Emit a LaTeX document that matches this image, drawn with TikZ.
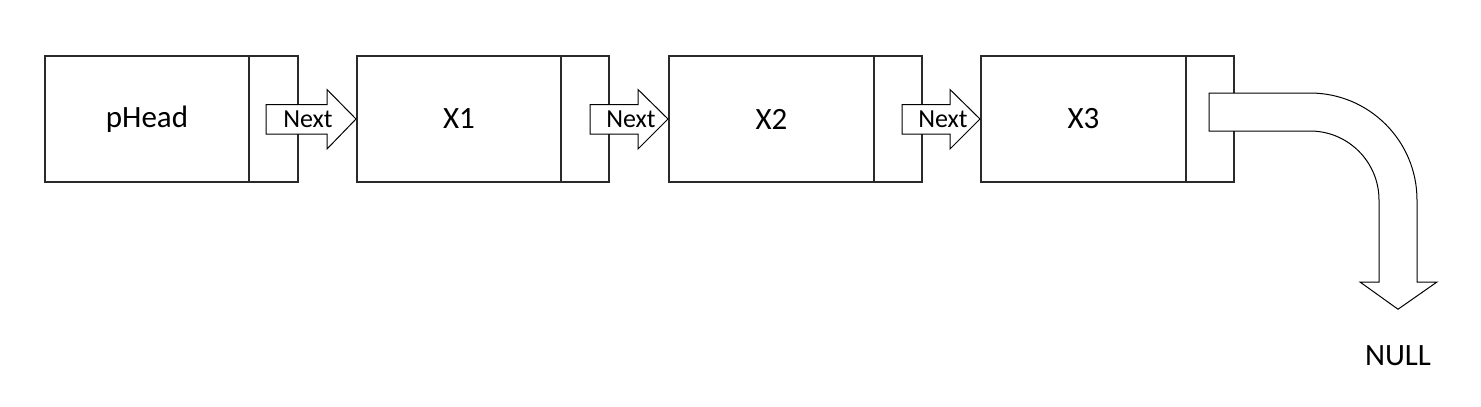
\documentclass[tikz,border=0pt]{standalone}
\usepackage{fontspec}
\setmainfont{Carlito}
\usetikzlibrary{calc}
\definecolor{boxline}{HTML}{2A2A2A}
\tikzset{
  cellbox/.style={draw=boxline, line width=2pt, rectangle, inner sep=0pt, minimum height=126pt, fill=white},
  datacell/.style={cellbox, font=\fontsize{31}{36}\selectfont},
  ptrcell/.style={cellbox},
  blockarrow/.style={draw=black, line width=1pt, fill=white, line join=miter},
  arrowtext/.style={inner sep=0pt, font=\fontsize{26}{30}\selectfont},
  nulltext/.style={inner sep=0pt, font=\fontsize{31}{36}\selectfont}
}
\begin{document}
\begin{tikzpicture}[x=1pt,y=-1pt]
\useasboundingbox[fill=white] (0,0) rectangle (1481,407);
% nodes of the list
\node[datacell, minimum width=204pt] (d1) at (147,119) {pHead};
\node[ptrcell, minimum width=49pt] (p1) at (273.5,119) {};
\node[datacell, minimum width=204pt] (d2) at (459,119) {X1};
\node[ptrcell, minimum width=48pt] (p2) at (585,119) {};
\node[datacell, minimum width=205pt] (d3) at (771.5,119) {X2};
\node[ptrcell, minimum width=48pt] (p3) at (898,119) {};
\node[datacell, minimum width=205pt] (d4) at (1083.5,119) {X3};
\node[ptrcell, minimum width=48pt] (p4) at (1210,119) {};
% block arrows "Next"
\draw[blockarrow] ($(d2.west)+(-90,-14.5)$) -- ++(61,0) -- ++(0,-15) -- (d2.west)
  -- ($(d2.west)+(-29,30)$) -- ++(0,-15) -- ++(-61,0) -- cycle;
\node[arrowtext] (n1) at ($(d2.west)+(-48,0)$) {Next};
\draw[blockarrow] ($(d3.west)+(-78,-14.5)$) -- ++(48,0) -- ++(0,-15) -- (d3.west)
  -- ($(d3.west)+(-30,30)$) -- ++(0,-15) -- ++(-48,0) -- cycle;
\node[arrowtext] (n2) at ($(d3.west)+(-37,0)$) {Next};
\draw[blockarrow] ($(d4.west)+(-78,-14.5)$) -- ++(48,0) -- ++(0,-15) -- (d4.west)
  -- ($(d4.west)+(-30,30)$) -- ++(0,-15) -- ++(-48,0) -- cycle;
\node[arrowtext] (n3) at ($(d4.west)+(-37,0)$) {Next};
% curved arrow to NULL
\node[nulltext] (null) at (1398,355.5) {NULL};
\coordinate (tip) at ($(null.north)+(0,-36)$);
\draw[blockarrow] ($(p4.center)+(-1,-26)$) -- (1310,93) arc[start angle=-90, end angle=0, radius=107]
  -- (1417,282) -- (1437,282) -- (tip) -- (1360,282) -- (1379,282) -- (1379,200)
  arc[start angle=0, end angle=-90, radius=69] -- ($(p4.center)+(-1,12)$) -- cycle;
\end{tikzpicture}
\end{document}
